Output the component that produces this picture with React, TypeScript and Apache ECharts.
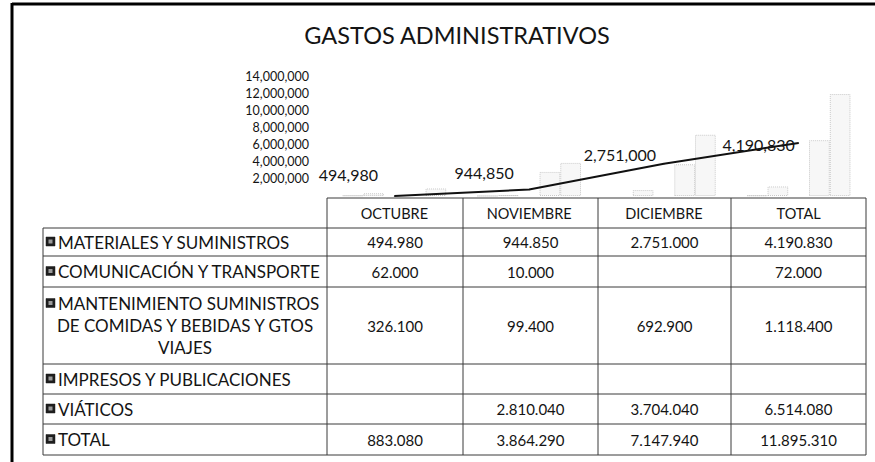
import React, { useEffect, useRef } from "react";
import * as echarts from "echarts";

// ---------- data ----------
const CATEGORIES = ["OCTUBRE", "NOVIEMBRE", "DICIEMBRE", "TOTAL"];
const MATERIALES = [494980, 944850, 2751000, 4190830];
const COMUNICACION = [62000, 10000, null, 72000];
const MANTENIMIENTO = [326100, 99400, 692900, 1118400];
const IMPRESOS = [null, null, null, null];
const VIATICOS = [null, 2810040, 3704040, 6514080];
const TOTALES = [883080, 3864290, 7147940, 11895310];
const ROW_LABELS = [
  ["MATERIALES Y SUMINISTROS"],
  ["COMUNICACIÓN Y TRANSPORTE"],
  ["MANTENIMIENTO SUMINISTROS", "DE COMIDAS Y BEBIDAS Y GTOS", "VIAJES"],
  ["IMPRESOS Y PUBLICACIONES"],
  ["VIÁTICOS"],
  ["TOTAL"],
];
const Y_MAX = 14000000;
const Y_INTERVAL = 2000000;

// ---------- layout / style ----------
const FONT = "Lato";
const COL_X = [43, 327, 463, 598, 731, 866];
const HEADER_TOP = 198;
const ROW_Y = [228, 256, 287, 364, 394, 424, 455];
const LINE_LABEL_OFFSETS = [
  [-46, -8],
  [-45, -4],
  [-44, 4],
  [-40, 15],
];

const fmtComma = (v: number) => String(v).replace(/\B(?=(\d{3})+(?!\d))/g, ",");
const fmtDot = (v: number) => String(v).replace(/\B(?=(\d{3})+(?!\d))/g, ".");

function buildTable() {
  const els: any[] = [];
  const stroke = "#3a3a3a";
  const ln = (x1: number, y1: number, x2: number, y2: number) =>
    els.push({ type: "line", shape: { x1, y1, x2, y2 }, style: { stroke, lineWidth: 1 }, z: 10 });
  ln(COL_X[1], HEADER_TOP, COL_X[5], HEADER_TOP);
  ROW_Y.forEach((y) => ln(COL_X[0], y, COL_X[5], y));
  ln(COL_X[0], ROW_Y[0], COL_X[0], ROW_Y[ROW_Y.length - 1]);
  for (let i = 1; i < COL_X.length; i++) ln(COL_X[i], HEADER_TOP, COL_X[i], ROW_Y[ROW_Y.length - 1]);

  const rows = [MATERIALES, COMUNICACION, MANTENIMIENTO, IMPRESOS, VIATICOS, TOTALES];
  rows.forEach((vals, r) => {
    const top = ROW_Y[r];
    const bot = ROW_Y[r + 1];
    const cy = (top + bot) / 2;
    const lines = ROW_LABELS[r];
    const lineH = 22;
    const firstY = lines.length > 1 ? cy - ((lines.length - 1) * lineH) / 2 : cy;
    els.push({
      type: "rect",
      shape: { x: 46, y: firstY - 5, width: 9, height: 9 },
      style: { fill: "#1e1e1e", stroke: "#1e1e1e", lineWidth: 0.5 },
      z: 10,
    });
    els.push({
      type: "rect",
      shape: { x: 48.5, y: firstY - 2.5, width: 4, height: 4 },
      style: { fill: "#9a9a9a" },
      z: 11,
    });
    lines.forEach((t, i) => {
      const first = i === 0;
      els.push({
        type: "text",
        x: first ? 58 : (COL_X[0] + COL_X[1]) / 2,
        y: firstY + i * lineH,
        style: {
          text: t,
          font: `17px ${FONT}`,
          fill: "#141414",
          align: first ? "left" : "center",
          verticalAlign: "middle",
          textAlign: first ? "left" : "center",
          textVerticalAlign: "middle",
        },
        z: 10,
      });
    });
    vals.forEach((v, c) => {
      if (v == null) return;
      els.push({
        type: "text",
        x: (COL_X[c + 1] + COL_X[c + 2]) / 2,
        y: cy,
        style: {
          text: fmtDot(v),
          font: `15px ${FONT}`,
          fill: "#141414",
          align: "center",
          verticalAlign: "middle",
          textAlign: "center",
          textVerticalAlign: "middle",
        },
        z: 10,
      });
    });
  });
  els.push({ type: "line", shape: { x1: 12, y1: 4, x2: 875, y2: 4 }, style: { stroke: "#000", lineWidth: 3 }, z: 10 });
  els.push({ type: "line", shape: { x1: 12, y1: 3, x2: 12, y2: 462 }, style: { stroke: "#000", lineWidth: 3 }, z: 10 });
  return els;
}

const faintBar = (name: string, data: (number | null)[]) => ({
  name,
  type: "bar",
  data,
  barGap: "0%",
  barCategoryGap: "23%",
  itemStyle: {
    color: "rgba(0,0,0,0.03)",
    borderColor: "rgba(0,0,0,0.2)",
    borderWidth: 1,
    borderType: "dotted",
  },
});

export default function App() {
  const ref = useRef<HTMLDivElement>(null);
  useEffect(() => {
    if (!ref.current) return;
    const chart = echarts.init(ref.current, null, { renderer: "svg" });
    chart.setOption({
      animation: false,
      backgroundColor: "#ffffff",
      title: {
        text: "GASTOS ADMINISTRATIVOS",
        left: 452,
        top: 18,
        textAlign: "center",
        textStyle: { fontFamily: FONT, fontSize: 23.5, fontWeight: "normal", color: "#141414" },
      },
      grid: { left: COL_X[1], right: 875 - COL_X[5], top: 76, bottom: 462 - 196 },
      xAxis: {
        type: "category",
        data: CATEGORIES,
        axisLine: { show: false },
        axisTick: { show: false },
        axisLabel: { margin: 10, fontFamily: FONT, fontSize: 14.5, color: "#141414" },
      },
      yAxis: [
        {
          type: "value",
          min: 0,
          max: Y_MAX,
          interval: Y_INTERVAL,
          splitLine: { show: false },
          axisLine: { show: false },
          axisTick: { show: false },
          axisLabel: {
            showMinLabel: false,
            margin: 18,
            fontFamily: FONT,
            fontSize: 12.5,
            color: "#141414",
            formatter: (v: number) => fmtComma(v),
          },
        },
        { type: "value", min: 500000, max: 8850000, show: false, splitLine: { show: false } },
      ],
      series: [
        faintBar(ROW_LABELS[1].join(" "), COMUNICACION),
        faintBar(ROW_LABELS[2].join(" "), MANTENIMIENTO),
        faintBar(ROW_LABELS[3].join(" "), IMPRESOS),
        faintBar(ROW_LABELS[4].join(" "), VIATICOS),
        faintBar(ROW_LABELS[5].join(" "), TOTALES),
        {
          name: ROW_LABELS[0].join(" "),
          type: "line",
          yAxisIndex: 1,
          clip: false,
          symbol: "circle",
          symbolSize: 1,
          showSymbol: true,
          z: 5,
          itemStyle: { color: "#111" },
          lineStyle: { color: "#111", width: 2 },
          data: MATERIALES.map((v, i) => ({
            value: v,
            label: { offset: LINE_LABEL_OFFSETS[i] },
          })),
          label: {
            show: true,
            position: "top",
            distance: 5,
            fontFamily: FONT,
            fontSize: 16,
            color: "#141414",
            formatter: (p: any) => fmtComma(p.value),
          },
        },
      ],
      graphic: buildTable(),
    });
    return () => chart.dispose();
  }, []);
  return (
    <div
      ref={ref}
      style={{ position: "fixed", left: 0, top: 0, width: 875, height: 462, background: "#fff" }}
    />
  );
}
